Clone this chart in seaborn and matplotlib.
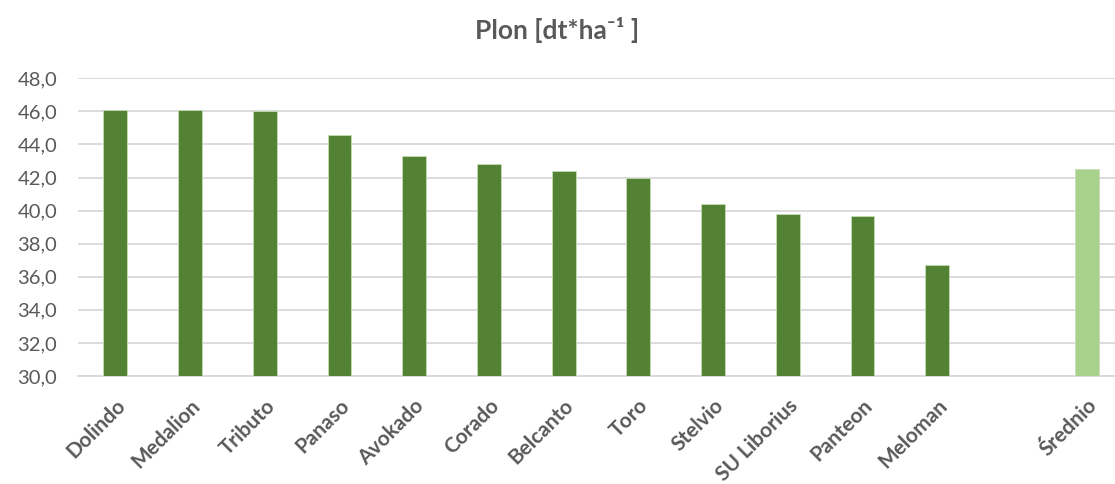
import matplotlib
matplotlib.use("Agg")
import matplotlib.pyplot as plt
from matplotlib.ticker import FuncFormatter
import pandas as pd
import seaborn as sns

# data
odmiany = ["Dolindo", "Medalion", "Tributo", "Panaso", "Avokado", "Corado",
           "Belcanto", "Toro", "Stelvio", "SU Liborius", "Panteon", "Meloman"]
plon = [46.1, 46.1, 46.0, 44.6, 43.3, 42.8, 42.4, 42.0, 40.4, 39.8, 39.7, 36.7]
srednio_label = "Średnio"
srednio = 42.5

df = pd.DataFrame({"odmiana": odmiany + [srednio_label], "plon": plon + [srednio]})
order = odmiany + [" ", srednio_label]

ciemny = "#548235"
jasny = "#A9D18E"
paleta = {o: ciemny for o in odmiany}
paleta[srednio_label] = jasny
paleta[" "] = "white"

sns.set_style("white")
plt.rcParams["font.family"] = ["Lato", "DejaVu Sans"]

fig = plt.figure(figsize=(11.15, 4.84), dpi=100)
ax = fig.add_axes([78 / 1115, 1 - 376 / 484, (1124 - 78) / 1115, (376 - 78.3) / 484])

sns.barplot(data=df, x="odmiana", y="plon", hue="odmiana", order=order,
            hue_order=order, palette=paleta, saturation=1, legend=False, width=0.32,
            edgecolor="#C5DDB5", linewidth=0.6, ax=ax, zorder=3)

ax.set_ylim(30, 48)
ax.set_yticks(range(30, 49, 2))
ax.yaxis.set_major_formatter(FuncFormatter(lambda v, p: f"{v:.1f}".replace(".", ",")))
ax.grid(axis="y", color="#D9D9D9", linewidth=1.3, zorder=0)
ax.set_axisbelow(True)
for s in ["top", "right", "left"]:
    ax.spines[s].set_visible(False)
ax.spines["bottom"].set_color("#D9D9D9")
ax.spines["bottom"].set_linewidth(1.3)
ax.tick_params(axis="both", length=0, colors="#595959")
ax.tick_params(axis="y", labelsize=14.5, pad=15)
ax.set_xlabel("")
ax.set_ylabel("")

ax.set_xticks(range(len(order)))
ax.set_xticklabels(order, rotation=45, ha="right", rotation_mode="anchor",
                   fontsize=15, fontweight="bold", color="#595959")
ax.tick_params(axis="x", pad=14)

fig.text(0.5, 1 - 30 / 484, "Plon [dt*ha⁻¹ ]", ha="center", va="center",
         fontsize=19, fontweight="bold", color="#595959")

fig.savefig("out.png", dpi=100)
